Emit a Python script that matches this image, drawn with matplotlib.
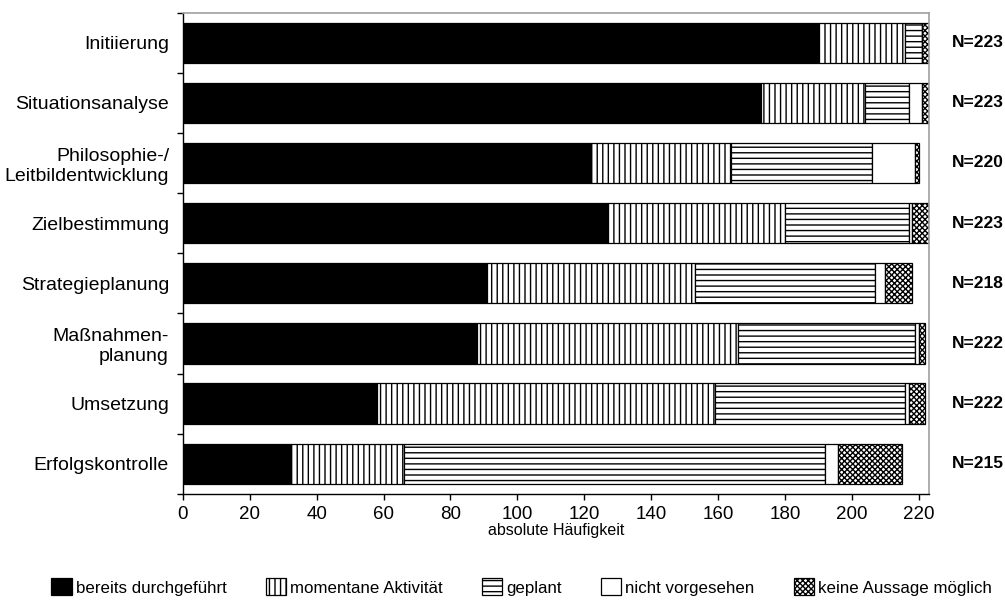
import numpy as np
import matplotlib.pyplot as plt
from matplotlib.ticker import FixedLocator

plt.rcParams['font.family'] = ['Liberation Sans', 'DejaVu Sans']
plt.rcParams['hatch.linewidth'] = 1.0

kategorien = ["Initiierung", "Situationsanalyse", "Philosophie-/\nLeitbildentwicklung",
              "Zielbestimmung", "Strategieplanung", "Maßnahmen-\nplanung",
              "Umsetzung", "Erfolgskontrolle"]
bereits = [190, 173, 122, 127, 91, 88, 58, 32]
momentan = [26, 31, 42, 53, 62, 78, 101, 34]
geplant = [5, 13, 42, 37, 54, 53, 57, 126]
nicht = [0, 4, 13, 1, 3, 1, 1, 4]
keine = [2, 2, 1, 5, 8, 2, 5, 19]
n_werte = [223, 223, 220, 223, 218, 222, 222, 215]

serien = [
    ("bereits durchgeführt", bereits, "black", None),
    ("momentane Aktivität", momentan, "white", "|||"),
    ("geplant", geplant, "white", "---"),
    ("nicht vorgesehen", nicht, "white", None),
    ("keine Aussage möglich", keine, "white", "xxxxxx"),
]

fig = plt.figure(figsize=(10.05, 6.0), dpi=100)
ax = fig.add_axes([0.182, 0.177, 0.742, 0.802])

y = np.arange(len(kategorien))
links = np.zeros(len(kategorien))
handles = []
for name, werte, farbe, muster in serien:
    b = ax.barh(y, werte, left=links, height=0.67, color=farbe, edgecolor="black",
                linewidth=0.9, hatch=muster, label=name)
    handles.append(b)
    links += np.array(werte)

ax.set_xlim(0, 223)
ax.set_ylim(len(kategorien) - 0.5, -0.5)

ax.set_yticks(y)
ax.set_yticklabels(kategorien, fontsize=14)
ax.yaxis.set_minor_locator(FixedLocator(np.arange(-0.5, len(kategorien), 1)))
ax.tick_params(axis="y", which="major", length=0, pad=10)
ax.tick_params(axis="y", which="minor", length=4, width=1, direction="out")

ax.set_xticks(np.arange(0, 221, 20))
ax.tick_params(axis="x", length=4, width=1, labelsize=13.5, pad=5)
ax.set_xlabel("absolute Häufigkeit", fontsize=11.5, labelpad=0)

for s in ["top", "right"]:
    ax.spines[s].set_color("#a0a0a0")
    ax.spines[s].set_linewidth(1.2)
for s in ["left", "bottom"]:
    ax.spines[s].set_color("black")
    ax.spines[s].set_linewidth(1.0)

for i, n in enumerate(n_werte):
    ax.text(1.031, i, f"N={n}", transform=ax.get_yaxis_transform(),
            ha="left", va="center", fontsize=12.5, fontweight="bold")

fig.legend(handles=handles, loc="center", bbox_to_anchor=(0.519, 0.022), ncol=5,
           frameon=False, fontsize=12.2, handlelength=1.2, handleheight=1.2,
           handletextpad=0.25, columnspacing=2.3, borderpad=0)

fig.savefig("out.png", dpi=100)
